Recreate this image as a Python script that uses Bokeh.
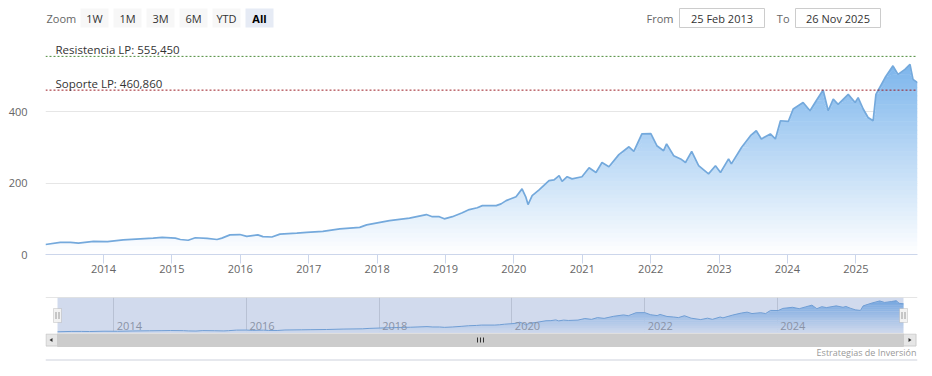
import numpy as np
import pandas as pd
from bokeh.plotting import figure
from bokeh.models import (Range1d, FixedTicker, DatetimeTickFormatter, Span, Label,
                          BoxAnnotation)
from bokeh.core.properties import value
from bokeh.layouts import column
from bokeh.embed import file_html
from bokeh.resources import INLINE

# ---------------- data ----------------
DATES = [
    "2013-02-25", "2013-05-15", "2013-07-08", "2013-08-20", "2013-11-08",
    "2014-01-22", "2014-04-16", "2014-07-16", "2014-09-23", "2014-11-10",
    "2015-01-19", "2015-02-15", "2015-03-29", "2015-05-06", "2015-07-08",
    "2015-08-30", "2015-09-25", "2015-11-07", "2015-12-30", "2016-02-05",
    "2016-04-04", "2016-05-01", "2016-06-18", "2016-07-31", "2016-10-29",
    "2016-12-21", "2017-03-17", "2017-06-16", "2017-09-30", "2017-11-06",
    "2018-03-08", "2018-06-23", "2018-09-21", "2018-10-23", "2018-11-29",
    "2018-12-26", "2019-02-07", "2019-04-01", "2019-05-08", "2019-06-20",
    "2019-07-17", "2019-09-29", "2019-10-25", "2019-11-21", "2020-01-13",
    "2020-02-14", "2020-03-06", "2020-03-17", "2020-04-08", "2020-05-15",
    "2020-07-07", "2020-08-03", "2020-08-30", "2020-09-15", "2020-10-12",
    "2020-11-07", "2020-12-30", "2021-02-06", "2021-03-15", "2021-04-16",
    "2021-05-23", "2021-07-15", "2021-09-07", "2021-10-03", "2021-11-15",
    "2022-01-02", "2022-02-03", "2022-03-11", "2022-03-27", "2022-05-04",
    "2022-06-10", "2022-07-06", "2022-08-08", "2022-09-14", "2022-11-06",
    "2022-12-13", "2023-01-09", "2023-02-21", "2023-03-08", "2023-05-01",
    "2023-06-18", "2023-07-19", "2023-08-15", "2023-10-02", "2023-10-29",
    "2023-11-25", "2024-01-06", "2024-02-01", "2024-03-25", "2024-05-01",
    "2024-06-03", "2024-07-10", "2024-08-06", "2024-09-02", "2024-09-28",
    "2024-11-21", "2024-12-28", "2025-01-13", "2025-02-09", "2025-03-07",
    "2025-04-03", "2025-04-18", "2025-06-06", "2025-07-18", "2025-08-14",
    "2025-09-20", "2025-10-17", "2025-11-02", "2025-11-26",
]
PRICES = [
    28, 34, 34, 32, 37,
    36, 41, 44, 46, 48,
    46, 42, 40, 47, 45,
    42, 46, 55, 56, 51,
    55, 50, 49, 57, 60,
    62, 65, 72, 76, 83,
    95, 102, 112, 106, 106,
    100, 106, 117, 126, 131,
    137, 137, 142, 151, 162,
    184, 160, 140, 165, 181,
    207, 209, 221, 205, 218,
    212, 218, 243, 230, 258,
    246, 280, 302, 289, 338,
    339, 305, 291, 310, 277,
    268, 258, 289, 249, 226,
    249, 230, 268, 254, 300,
    333, 347, 324, 338, 324,
    375, 373, 408, 426, 403,
    431, 461, 403, 436, 421,
    449, 426, 440, 408, 384,
    375, 449, 496, 529, 505,
    519, 533, 491, 482,
]
RESISTENCIA = 555.45
SOPORTE = 460.86
Y_TICKS = [0, 200, 400, 600]
X_TICK_YEARS = list(range(2014, 2026))
NAV_TICK_YEARS = [2014, 2016, 2018, 2020, 2022, 2024]
RANGE_BUTTONS = ["1W", "1M", "3M", "6M", "YTD", "All"]
FROM_TEXT = "25 Feb 2013"
TO_TEXT = "26 Nov 2025"
CREDIT = "Estrategias de Inversión"

# ---------------- styles ----------------
FONT = "Open Sans"
W = 932
BL, BR = 45, 15            # left/right borders shared by every figure (frames are aligned)
FX0, FX1 = BL, W - BR      # frame in page pixels
BASE_RGB = (124, 181, 236)
LINE_COLOR = "#74a9dc"

x_ms = pd.to_datetime(DATES).values.astype("datetime64[ms]").astype("int64").astype(float)
yv = np.array(PRICES, dtype=float)
d0, d1 = x_ms[0], x_ms[-1]
vmax = yv.max()


def year_ms(yr):
    return float(np.datetime64(f"{yr}-01-01", "ms").astype("int64"))


def grad_color(h):
    a = min(max(h / vmax, 0.0), 1.0)
    r, g, b = [int(round(255 - a * (255 - c))) for c in BASE_RGB]
    return f"#{r:02x}{g:02x}{b:02x}"


def add_gradient_area(p, step, eps):
    levels = np.arange(0, vmax + step, step)
    for L in levels:
        y1 = np.minimum(yv, L)
        y2 = np.minimum(yv, L + step + eps)
        p.varea(x=x_ms, y1=y1, y2=y2, fill_color=grad_color(L + step / 2), fill_alpha=1.0)


def fmt_es(v):
    return f"{v:.3f}".replace(".", ",")


def clean(p):
    p.outline_line_color = None
    p.background_fill_color = "white"
    p.border_fill_color = "white"


def pixel_fig(height):
    p = figure(width=W, height=height, x_range=Range1d(FX0, FX1), y_range=Range1d(height, 0),
               min_border_left=BL, min_border_right=BR, min_border_top=0, min_border_bottom=0,
               x_axis_location=None, y_axis_location=None,
               output_backend="svg", toolbar_location=None, tools="")
    clean(p)
    p.grid.visible = False
    return p


# ---------------- header (range selector / inputs) ----------------
hdr = pixel_fig(40)
BTN_X0, BTN_W, BTN_GAP, BTN_Y, BTN_H = 80, 28, 5, 17.5, 19
btn_cx = [BTN_X0 + BTN_W / 2 + i * (BTN_W + BTN_GAP) for i in range(len(RANGE_BUTTONS))]
btn_fill = ["#f7f7f7"] * (len(RANGE_BUTTONS) - 1) + ["#e6ebf5"]
hdr.rect(x=btn_cx, y=BTN_Y, width=BTN_W, height=BTN_H, fill_color=btn_fill, line_color=None)
hdr.text(x=btn_cx[:-1], y=BTN_Y, text=RANGE_BUTTONS[:-1], text_align="center",
         text_baseline="middle", text_font=value(FONT), text_font_size="11px", text_color="#333333")
hdr.text(x=btn_cx[-1:], y=BTN_Y, text=RANGE_BUTTONS[-1:], text_align="center",
         text_baseline="middle", text_font=value(FONT), text_font_size="11px",
         text_font_style="bold", text_color="#000000")
hdr.text(x=[46], y=BTN_Y, text=["Zoom"], text_align="left", text_baseline="middle",
         text_font=value(FONT), text_font_size="11px", text_color="#666666")
box_cx = [721.5, 837.5]
hdr.rect(x=box_cx, y=BTN_Y, width=85, height=19, fill_color="white", line_color="#cccccc")
hdr.text(x=box_cx, y=BTN_Y, text=[FROM_TEXT, TO_TEXT], text_align="center", text_baseline="middle",
         text_font=value(FONT), text_font_size="11px", text_color="#333333")
hdr.text(x=[673, 789], y=BTN_Y, text=["From", "To"], text_align="right", text_baseline="middle",
         text_font=value(FONT), text_font_size="11px", text_color="#666666")

# ---------------- main chart ----------------
main = figure(width=W, height=254, x_axis_type="datetime",
              x_range=Range1d(d0, d1), y_range=Range1d(0, 600),
              min_border_left=BL, min_border_right=BR, min_border_top=0, min_border_bottom=40,
              output_backend="svg", toolbar_location=None, tools="")
clean(main)
add_gradient_area(main, step=12, eps=1.5)
main.line(x=x_ms, y=yv, line_color=LINE_COLOR, line_width=1.7)

main.xgrid.visible = False
main.ygrid.ticker = FixedTicker(ticks=Y_TICKS)
main.ygrid.grid_line_color = "#e6e6e6"

main.yaxis.ticker = FixedTicker(ticks=Y_TICKS)
main.yaxis.major_label_overrides = {600: ""}
main.yaxis.axis_line_color = None
main.yaxis.major_tick_line_color = None
main.yaxis.minor_tick_line_color = None
main.yaxis.major_label_standoff = 12
main.yaxis.major_label_text_font = FONT
main.yaxis.major_label_text_font_size = "11px"
main.yaxis.major_label_text_color = "#666666"

main.xaxis.ticker = FixedTicker(ticks=[year_ms(y) for y in X_TICK_YEARS])
main.xaxis.formatter = DatetimeTickFormatter(
    microseconds="%Y", milliseconds="%Y", seconds="%Y", minsec="%Y", minutes="%Y",
    hourmin="%Y", hours="%Y", days="%Y", months="%Y", years="%Y")
main.xaxis.axis_line_color = "#ccd6eb"
main.xaxis.major_tick_line_color = "#ccd6eb"
main.xaxis.major_tick_out = 9
main.xaxis.major_tick_in = 0
main.xaxis.minor_tick_line_color = None
main.xaxis.major_label_standoff = 1
main.xaxis.major_label_text_font = FONT
main.xaxis.major_label_text_font_size = "11px"
main.xaxis.major_label_text_color = "#666666"

for lvl, col, name in [(RESISTENCIA, "#4d8b3a", "Resistencia LP"), (SOPORTE, "#9b1c24", "Soporte LP")]:
    main.add_layout(Span(location=lvl, dimension="width", line_color=col,
                         line_dash="2 2", line_width=1))
    main.add_layout(Label(x=d0, y=lvl, x_offset=10, y_offset=6.5, text=f"{name}: {fmt_es(lvl)}",
                          text_baseline="middle", text_font=FONT, text_font_size="11.5px",
                          text_color="#333333"))

# ---------------- navigator ----------------
NAV_FRAME_W, NAV_FRAME_H = FX1 - FX0, 36
NAV_PAD_L, NAV_PAD_R = 12, 14       # data starts at x=57 and ends at x=903 on the page
NAV_YMAX = 585
ms_per_px = (d1 - d0) / (NAV_FRAME_W - NAV_PAD_L - NAV_PAD_R)
upp = NAV_YMAX / NAV_FRAME_H
nav = figure(width=W, height=3 + NAV_FRAME_H,
             x_range=Range1d(d0 - NAV_PAD_L * ms_per_px, d1 + NAV_PAD_R * ms_per_px),
             y_range=Range1d(0, NAV_YMAX),
             min_border_left=BL, min_border_right=BR, min_border_top=3, min_border_bottom=0,
             x_axis_location=None, y_axis_location=None,
             output_backend="svg", toolbar_location=None, tools="")
clean(nav)
nav.ygrid.visible = False
nav.xgrid.ticker = FixedTicker(ticks=[year_ms(y) for y in NAV_TICK_YEARS])
nav.xgrid.grid_line_color = "#dcdcdc"
add_gradient_area(nav, step=30, eps=3)
nav.line(x=x_ms, y=yv, line_color=LINE_COLOR, line_width=1)
nav.text(x=[year_ms(y) for y in NAV_TICK_YEARS], y=8 * upp, x_offset=3,
         text=[str(y) for y in NAV_TICK_YEARS], text_align="left", text_baseline="middle",
         text_font=value(FONT), text_font_size="11px", text_color="#999999")
nav.add_layout(BoxAnnotation(left=d0, right=d1, fill_color="#6685c2", fill_alpha=0.3,
                             line_color=None, level="annotation"))
nav.add_layout(Span(location=NAV_YMAX, dimension="width", line_color="#cccccc", line_width=1))
hmid = 18 * upp
for hx in (d0, d1):
    nav.add_layout(BoxAnnotation(left=hx - 4 * ms_per_px, right=hx + 4 * ms_per_px,
                                 bottom=hmid - 7 * upp, top=hmid + 7 * upp,
                                 fill_color="#f2f2f2", fill_alpha=1, line_color="#999999",
                                 line_width=1, level="overlay"))
    for dx in (-1.5, 1.5):
        nav.add_layout(BoxAnnotation(left=hx + (dx - 0.5) * ms_per_px, right=hx + (dx + 0.5) * ms_per_px,
                                     bottom=hmid - 3.5 * upp, top=hmid + 3.5 * upp,
                                     fill_color="#999999", fill_alpha=1, line_color=None,
                                     level="overlay"))

# ---------------- scrollbar + credits ----------------
bot = pixel_fig(43)
SB_L, SB_R, SB_IN_L, SB_IN_R, SB_T, SB_B = FX0, FX1 - 1, 57, 903, 0, 13
bot.quad(left=SB_IN_L, right=SB_IN_R, top=SB_T, bottom=SB_B, fill_color="#cccccc", line_color="#cccccc")
bot.quad(left=[SB_L + 0.5, SB_IN_R], right=[SB_IN_L, SB_R - 0.5], top=SB_T + 0.5, bottom=SB_B - 0.5,
         fill_color="#e6e6e6", line_color="#cccccc")
mid_y = (SB_T + SB_B) / 2
bot.patches(xs=[[SB_IN_L - 5, SB_IN_L - 5, SB_IN_L - 8], [SB_IN_R + 5, SB_IN_R + 5, SB_IN_R + 8]],
            ys=[[mid_y - 2, mid_y + 2, mid_y]] * 2, fill_color="#333333", line_color=None)
gx = (SB_IN_L + SB_IN_R) / 2
bot.segment(x0=[gx - 3, gx, gx + 3], x1=[gx - 3, gx, gx + 3], y0=mid_y - 2.5, y1=mid_y + 2.5,
            line_color="#333333", line_width=1)
bot.segment(x0=[FX0], x1=[FX1], y0=[26.5], y1=[26.5], line_color="#cdd1dc", line_width=1)
bot.text(x=[916], y=[18.5], text=[CREDIT], text_align="right", text_baseline="middle",
         text_font=value(FONT), text_font_size="9px", text_color="#999999")

layout = column(hdr, main, nav, bot, spacing=0)
open("out.html", "w").write(file_html(layout, INLINE))
